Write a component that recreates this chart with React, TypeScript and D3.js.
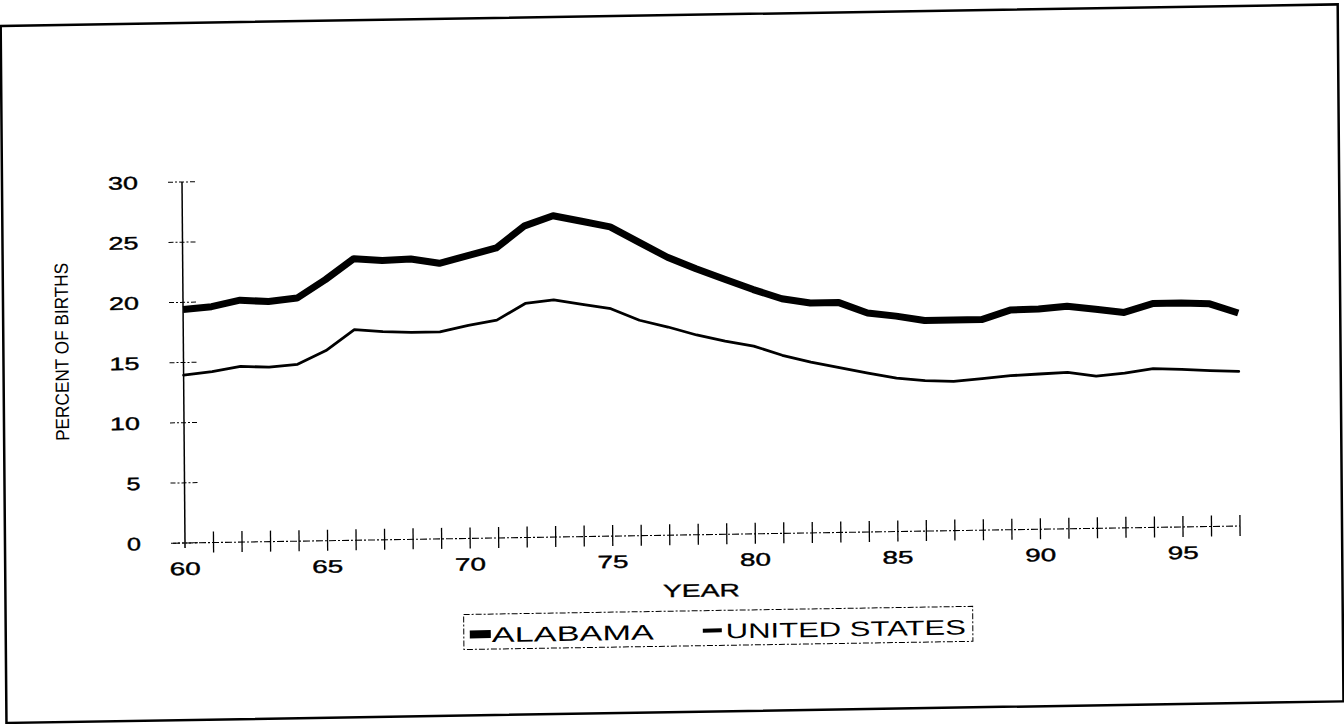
import React from "react";
import * as d3 from "d3";

const years = d3.range(60, 98);
const alabama = [19.4, 19.6, 20.1, 19.95, 20.2, 21.7, 23.4, 23.2, 23.3, 22.9, 23.5, 24.1, 25.9, 26.7, 26.2, 25.7, 24.4, 23.1, 22.1, 21.2, 20.3, 19.5, 19.1, 19.1, 18.2, 17.9, 17.5, 17.5, 17.5, 18.25, 18.3, 18.5, 18.2, 17.9, 18.6, 18.6, 18.5, 17.7];
const unitedStates = [13.95, 14.2, 14.6, 14.5, 14.7, 15.8, 17.5, 17.3, 17.2, 17.2, 17.7, 18.1, 19.45, 19.7, 19.3, 18.9, 17.9, 17.3, 16.6, 16.05, 15.6, 14.8, 14.2, 13.7, 13.2, 12.75, 12.5, 12.4, 12.6, 12.8, 12.9, 13.0, 12.65, 12.85, 13.2, 13.1, 12.95, 12.85];
const yTicks = [0, 5, 10, 15, 20, 25, 30];
const xLabelTicks = [60, 65, 70, 75, 80, 85, 90, 95];
const seriesNames = ["ALABAMA", "UNITED STATES"];
const yTitle = "PERCENT OF BIRTHS";
const xTitle = "YEAR";

const FONT = "'Liberation Sans', Arial, sans-serif";

export default function App() {
  const W = 1344, H = 724;
  const x = d3.scaleLinear().domain([60, 97]).range([185, 1240]);
  const y = d3.scaleLinear().domain([0, 30]).range([543, 182]);
  const line = d3
    .line<number>()
    .x((_, i) => x(years[i]))
    .y((d) => y(d));
  const px = x(60), py = y(0);
  const skew = `translate(${px},${py}) matrix(1,-0.0161,0.0083,1,0,0) translate(${-px},${-py})`;

  return (
    <svg width={W} height={H} style={{ position: "absolute", left: 0, top: 0, background: "#fff" }}>
      <rect x={0} y={0} width={W} height={H} fill="#fff" />
      <g transform={skew} fontFamily={FONT} fill="#000">
        {/* border */}
        <rect x={5} y={23} width={1337} height={697} fill="none" stroke="#000" strokeWidth={2.5} />
        {/* y axis */}
        <line x1={x(60)} x2={x(60)} y1={y(30)} y2={y(0) + 5} stroke="#000" strokeWidth={1.5} />
        {yTicks.map((t) => (
          <g key={"y" + t}>
            <line x1={x(60) - 14} x2={x(60) + 13} y1={y(t)} y2={y(t)} stroke="#000" strokeWidth={1} strokeDasharray="5 2 2 2" />
            <text x={141} y={y(t) + 6.5} fontSize={18} textAnchor="end" stroke="#000" strokeWidth={0.4} textLength={String(t).length > 1 ? 30 : 14} lengthAdjust="spacingAndGlyphs">
              {t}
            </text>
          </g>
        ))}
        {/* x axis */}
        <line x1={x(60) - 12} x2={x(97)} y1={y(0)} y2={y(0)} stroke="#000" strokeWidth={1.1} strokeDasharray="7 2 2 2" />
        {years.filter((v) => v > 60).map((v) => (
          <line key={"xt" + v} x1={x(v)} x2={x(v)} y1={y(0) - 11} y2={y(0) + 10} stroke="#000" strokeWidth={1.3} />
        ))}
        {xLabelTicks.map((v) => (
          <text key={"xl" + v} x={x(v)} y={575} fontSize={18} textAnchor="middle" stroke="#000" strokeWidth={0.4} textLength={31} lengthAdjust="spacingAndGlyphs">
            {v}
          </text>
        ))}
        <text x={701} y={605} fontSize={18} textAnchor="middle" stroke="#000" strokeWidth={0.3} textLength={77} lengthAdjust="spacingAndGlyphs">
          {xTitle}
        </text>
        <text transform={`translate(70,350) rotate(-90)`} fontSize={19} textAnchor="middle" textLength={178} lengthAdjust="spacingAndGlyphs">
          {yTitle}
        </text>
        {/* series */}
        <path d={line(unitedStates) || ""} fill="none" stroke="#000" strokeWidth={2.8} strokeLinejoin="round" strokeLinecap="round" />
        <path d={line(alabama) || ""} fill="none" stroke="#000" strokeWidth={7} strokeLinejoin="round" strokeLinecap="butt" />
        {/* legend */}
        <rect x={463} y={619} width={509} height={35} fill="none" stroke="#000" strokeWidth={1} strokeDasharray="6 2 2 2" />
        <line x1={469} x2={490} y1={639} y2={639} stroke="#000" strokeWidth={8} />
        <text x={491} y={647} fontSize={21} textLength={162} lengthAdjust="spacingAndGlyphs">
          {seriesNames[0]}
        </text>
        <line x1={702} x2={721} y1={639} y2={639} stroke="#000" strokeWidth={4} />
        <text x={725} y={647} fontSize={21} textLength={240} lengthAdjust="spacingAndGlyphs">
          {seriesNames[1]}
        </text>
      </g>
    </svg>
  );
}
